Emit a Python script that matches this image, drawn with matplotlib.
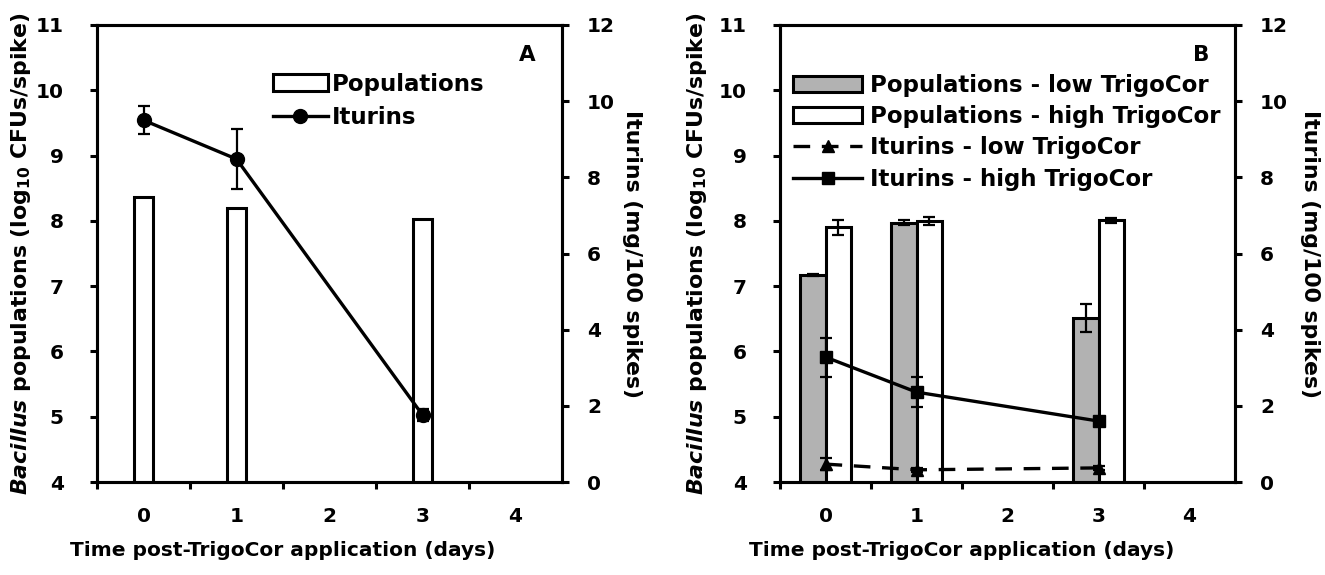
import numpy as np
import matplotlib
matplotlib.use("Agg")
import matplotlib.pyplot as plt

plt.rcParams['font.family'] = ['DejaVu Sans']
plt.rcParams['font.weight'] = 'bold'
plt.rcParams['axes.labelweight'] = 'bold'
plt.rcParams['mathtext.fontset'] = 'custom'
plt.rcParams['mathtext.rm'] = 'DejaVu Sans:bold'
plt.rcParams['mathtext.it'] = 'DejaVu Sans:italic:bold'
plt.rcParams['mathtext.bf'] = 'DejaVu Sans:bold'
plt.rcParams['axes.linewidth'] = 2.2

# data
days = [0, 1, 3]
day_ticks = [0, 1, 2, 3, 4]

# panel A
pop_a = [8.36, 8.20, 8.03]
itu_a = [9.50, 8.48, 1.76]
itu_a_err = [0.37, 0.79, 0.15]

# panel B
pop_low = [7.17, 7.97, 6.51]
pop_low_err = [0.01, 0.04, 0.22]
pop_high = [7.90, 8.00, 8.01]
pop_high_err = [0.12, 0.06, 0.04]
itu_low = [0.47, 0.32, 0.37]
itu_low_err = [0.16, 0.05, 0.05]
itu_high = [3.28, 2.36, 1.60]
itu_high_err = [0.51, 0.39, 0.08]

FS = 14.5      # tick labels, x label, panel letter
FS_Y = 15.8    # y axis titles
FS_LEG = 16.5  # legends
left_lab = r"$\mathit{Bacillus}$ populations (log$_{10}$ CFUs/spike)"
right_lab = "Iturins (mg/100 spikes)"
x_lab = "Time post-TrigoCor application (days)"

fig = plt.figure(figsize=(13.25, 5.75), dpi=100)
axA = fig.add_axes([97/1325, 93/575, 465/1325, 457/575])
axB = fig.add_axes([780/1325, 93/575, 455/1325, 457/575])


def style(ax, ax2, letter, wpx, left_off, right_off):
    ax.set_xlim(-0.5, 4.5)
    ax.set_ylim(4, 11)
    ax2.set_ylim(0, 12)
    ax.set_xticks(day_ticks)
    ax.set_xticks(np.arange(-0.5, 4.0, 1.0), minor=True)
    ax.tick_params(axis='x', which='major', length=0, labelsize=FS, pad=18)
    ax.tick_params(axis='x', which='minor', length=5, width=2.2, direction='out')
    ax.tick_params(axis='y', length=5, width=2.2, direction='out', labelsize=FS, pad=19)
    ax2.tick_params(axis='y', length=5, width=2.2, direction='out', labelsize=FS, pad=13)
    ax.set_yticks(range(4, 12))
    ax2.set_yticks(range(0, 13, 2))
    ax.set_ylabel(left_lab, fontsize=FS_Y, va='center')
    ax.yaxis.set_label_coords(-left_off / wpx, 0.5)
    ax2.set_ylabel(right_lab, fontsize=FS_Y, rotation=270, va='center')
    ax2.yaxis.set_label_coords(1 + right_off / wpx, 0.5)
    ax.set_xlabel(x_lab, fontsize=FS)
    ax.xaxis.set_label_coords(0.40, -0.13)
    ax2.text(0.925, 0.935, letter, transform=ax2.transAxes, fontsize=FS + 1,
             ha='center', va='center')


# ---- panel A
axA2 = axA.twinx()
bA = axA.bar(days, pop_a, width=0.21, color='white', edgecolor='black',
             linewidth=2.2)
lA = axA2.errorbar(days, itu_a, yerr=itu_a_err, color='black', lw=2.4,
                   marker='o', ms=10, capsize=4.5, elinewidth=1.6, capthick=1.6)
style(axA, axA2, 'A', 465, 76, 70)
axA2.legend([bA, lA[0]], ['Populations', 'Iturins'], loc='upper left',
            bbox_to_anchor=(0.378, 0.896), frameon=False, fontsize=FS_LEG,
            handlelength=2.4, handletextpad=0.2, labelspacing=0.45,
            borderpad=0, borderaxespad=0)

# ---- panel B
axB2 = axB.twinx()
x = np.array(days)
b1 = axB.bar(x - 0.14, pop_low, width=0.28, color='#b2b2b2', edgecolor='black',
             linewidth=2.2)
b2 = axB.bar(x + 0.14, pop_high, width=0.28, color='white', edgecolor='black',
             linewidth=2.2)
axB.errorbar(x - 0.14, pop_low, yerr=pop_low_err, fmt='none', ecolor='black',
             elinewidth=1.6, capsize=4.5, capthick=1.6)
axB.errorbar(x + 0.14, pop_high, yerr=pop_high_err, fmt='none', ecolor='black',
             elinewidth=1.6, capsize=4.5, capthick=1.6)
l1 = axB2.errorbar(days, itu_low, yerr=itu_low_err, color='black', lw=2.4,
                   ls=(0, (5, 3.5)), marker='^', ms=8, capsize=4.5,
                   elinewidth=1.6, capthick=1.6)
l2 = axB2.errorbar(days, itu_high, yerr=itu_high_err, color='black', lw=2.4,
                   marker='s', ms=9, capsize=4.5, elinewidth=1.6, capthick=1.6)
style(axB, axB2, 'B', 455, 83, 75)
axB2.legend([b1, b2, l1[0], l2[0]],
            ['Populations - low TrigoCor', 'Populations - high TrigoCor',
             'Iturins - low TrigoCor', 'Iturins - high TrigoCor'],
            loc='upper left', bbox_to_anchor=(0.029, 0.893), frameon=False,
            fontsize=FS_LEG, handlelength=3.0, handletextpad=0.35,
            labelspacing=0.36, borderpad=0, borderaxespad=0)

fig.savefig('out.png', dpi=100)
